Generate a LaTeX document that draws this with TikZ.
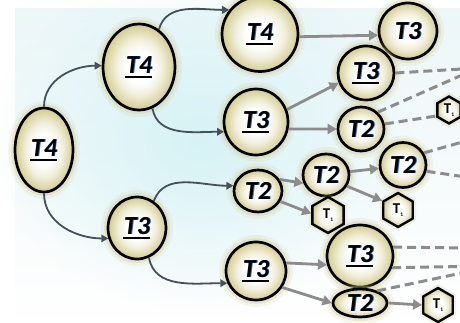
\documentclass[tikz,border=0pt]{standalone}
\usepackage{fontspec}
\newfontfamily\labfont{Carlito}
\usetikzlibrary{shapes.geometric,arrows.meta,fadings}

\definecolor{rimcol}{HTML}{D2CB8A}
\definecolor{glowcol}{HTML}{CFC98A}
\definecolor{curvecol}{HTML}{44505A}
\definecolor{linecol}{HTML}{8C8C8C}
\definecolor{skycol}{HTML}{D6F2F5}
\definecolor{palesky}{HTML}{EAF6F8}
\definecolor{fringecol}{HTML}{2A62C8}

\tikzfading[name=skyblob, inner color=transparent!0, outer color=transparent!100]
\tikzfading[name=skydown, top color=transparent!10, bottom color=transparent!100]

% pearl-like fill: white core, creamy rim
\pgfdeclareradialshading{pearl}{\pgfpoint{0bp}{0bp}}{%
  color(0bp)=(white); color(9bp)=(white); color(16bp)=(rimcol!30);
  color(22bp)=(rimcol!75); color(25bp)=(rimcol); color(50bp)=(rimcol)}

% task labels: bold italic with a faint blue fringe
\newcommand\tlab[1]{{\labfont\bfseries\itshape\fontsize{26}{26}\selectfont
  \makebox[0pt][l]{\hspace{0.9pt}\textcolor{fringecol}{#1}}#1}}
\newsavebox\labbox
\newcommand\tlabu[1]{\sbox\labbox{\tlab{#1}}%
  \rlap{\hspace{-1pt}\rule[-4.5pt]{\dimexpr\wd\labbox+1pt\relax}{2pt}}\usebox\labbox}
\newcommand\tone{{\labfont\bfseries\fontsize{15}{15}\selectfont T\raisebox{-2.5pt}{\fontsize{5.5}{5.5}\selectfont 1}}}

\begin{document}
\begin{tikzpicture}[x=1pt,y=-1pt,
  ball/.style={ellipse, draw=black, line width=2.7pt, inner sep=0pt,
    shading=pearl,
    preaction={draw=glowcol, line width=14pt, opacity=0.16},
    preaction={draw=glowcol, line width=8pt, opacity=0.3}},
  hexnode/.style={regular polygon, regular polygon sides=6, shape border rotate=30,
    draw=black, line width=2.4pt, inner sep=0pt,
    shading=pearl,
    preaction={draw=glowcol, line width=7pt, opacity=0.25}},
  curvearrow/.style={draw=curvecol, line width=1.8pt,
    -{Triangle[length=7pt,width=7.5pt]}},
  straightarrow/.style={draw=linecol, line width=2.8pt,
    -{Triangle[length=9pt,width=10pt]}},
  dashline/.style={draw=linecol, line width=3pt, dash pattern=on 9pt off 5pt}]

\useasboundingbox (0,0) rectangle (460,323);
\clip (0,0) rectangle (460,323);

% background wash
\fill[white] (0,0) rectangle (460,323);
\fill[palesky, path fading=skydown] (15,8) rectangle (460,318);
\fill[skycol, path fading=skyblob] (200,140) ellipse [x radius=210, y radius=170];

% nodes
\node[ball, minimum width=58pt, minimum height=84pt] (a) at (44,150) {\tlabu{T4}};
\node[ball, minimum width=72pt, minimum height=86pt] (b) at (139,67) {\tlabu{T4}};
\node[ball, minimum width=58pt, minimum height=62pt] (c) at (137,228) {\tlabu{T3}};
\node[ball, minimum width=76pt, minimum height=75pt] (d) at (260,34) {\tlabu{T4}};
\node[ball, minimum width=64pt, minimum height=66pt] (e) at (256,122) {\tlabu{T3}};
\node[ball, minimum width=48pt, minimum height=42pt] (f) at (258,191) {\tlab{T2}};
\node[ball, minimum width=60pt, minimum height=58pt] (g) at (256,271) {\tlabu{T3}};
\node[ball, minimum width=58pt, minimum height=56pt] (h) at (408,31) {\tlab{T3}};
\node[ball, minimum width=56pt, minimum height=54pt] (i) at (366,73) {\tlabu{T3}};
\node[ball, minimum width=46pt, minimum height=44pt] (j) at (361,129) {\tlab{T2}};
\node[ball, minimum width=46pt, minimum height=42pt] (k) at (326,175) {\tlab{T2}};
\node[ball, minimum width=46pt, minimum height=45pt] (l) at (403,165) {\tlab{T2}};
\node[ball, minimum width=66pt, minimum height=62pt] (m) at (360,256) {\tlabu{T3}};
\node[ball, minimum width=54pt, minimum height=28pt] (n) at (360,303) {\tlab{T2}};

\node[hexnode, minimum size=27pt] (p) at (449,110) {\tone};
\node[hexnode, minimum size=36pt] (q) at (328,215) {\tone};
\node[hexnode, minimum size=34pt] (s) at (398,210) {\tone};
\node[hexnode, minimum size=34pt] (t) at (438,305) {\tone};

% far ends of the open branches
\coordinate (r1) at (478,68);
\coordinate (r2) at (466,141);
\coordinate (r3) at (466,177);
\coordinate (r4) at (470,248);
\coordinate (r5) at (495,266);

% curved branches
\draw[curvearrow] (a.north) to[out=90,in=180] (b.178);
\draw[curvearrow] (a.south) to[out=-90,in=180] (c.200);
\draw[curvearrow] (b.62) to[out=75,in=180] (d.142);
\draw[curvearrow] (b.-72) to[out=-80,in=180] (e.197);
\draw[curvearrow] (c.58) to[out=70,in=180] (f.168);
\draw[curvearrow] (c.-68) to[out=-80,in=180] (g.203);

% straight branches
\draw[straightarrow] (d.-4) -- (h.188);
\draw[straightarrow] (e.22) -- (i.200);
\draw[straightarrow] (e.-12) -- (j.west);
\draw[straightarrow] (f.28) -- (k.200);
\draw[straightarrow] (f.-25) -- (q.175);
\draw[straightarrow] (k.8) -- (l.188);
\draw[straightarrow] (k.-28) -- (s.150);
\draw[straightarrow] (g.15) -- (m.195);
\draw[straightarrow] (g.-32) -- (n.west);
\draw[straightarrow] (n.east) -- (t.west);

% open branches
\draw[dashline] (i.east) -- (r1);
\draw[dashline] (j.45) -- (r1);
\draw[dashline] (j.12) -- (p.205);
\draw[dashline] (l.30) -- (r2);
\draw[dashline] (l.-15) -- (r3);
\draw[dashline] (m.15) -- (r4);
\draw[dashline] (m.-20) -- (r5);
\draw[dashline] (n.35) -- (r5);
\end{tikzpicture}
\end{document}
